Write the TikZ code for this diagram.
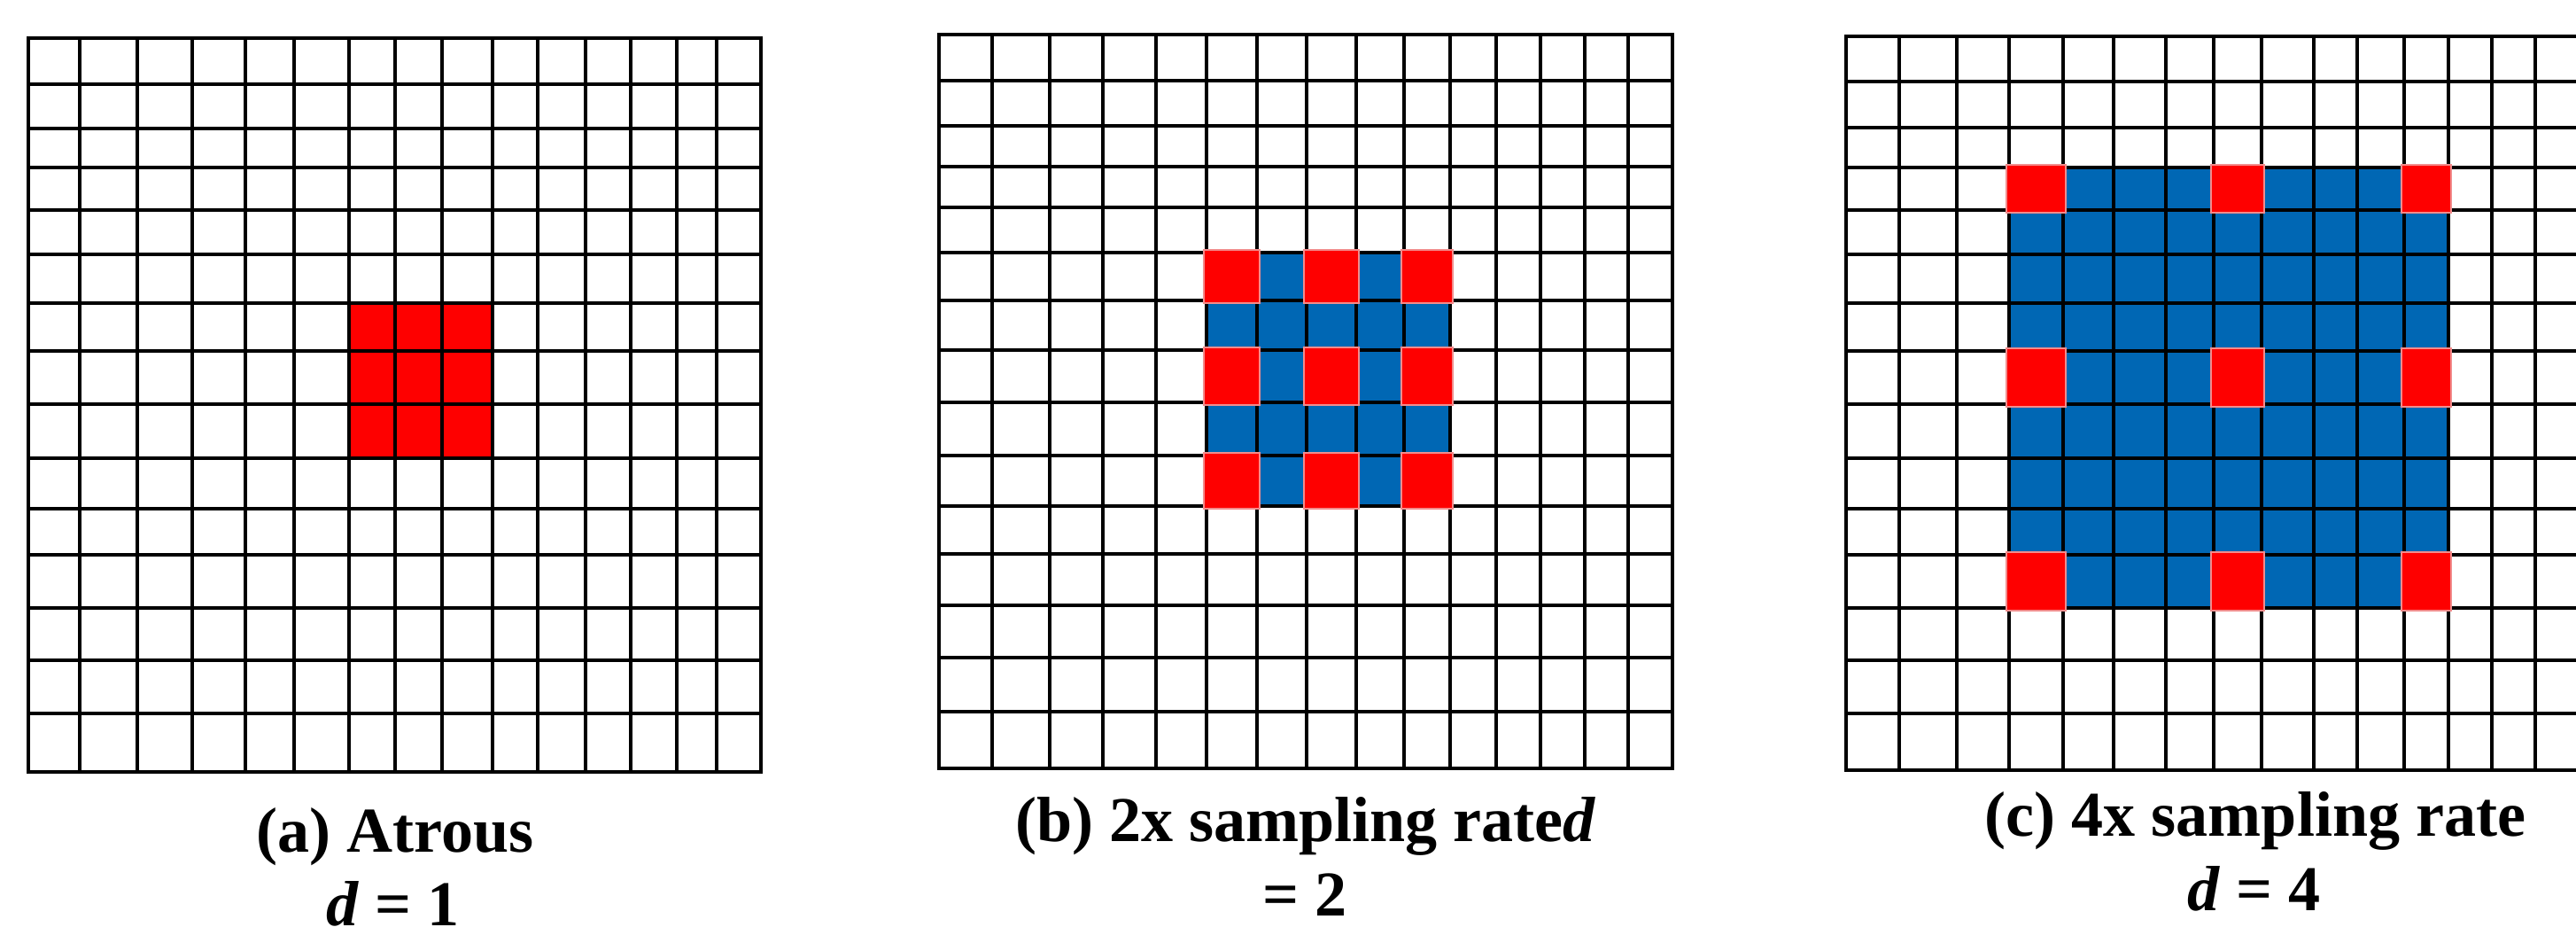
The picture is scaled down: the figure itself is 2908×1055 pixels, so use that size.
\documentclass[tikz,border=0pt]{standalone}
\usepackage{fontspec}
\setmainfont{Liberation Serif}
\definecolor{dilblue}{HTML}{0067B4}
\definecolor{dilred}{HTML}{FE0000}
\definecolor{dilpink}{HTML}{F28C8C}

\begin{document}
\begin{tikzpicture}[
  x=0.01cm, y=-0.01cm,
  font=\fontsize{20.5pt}{24pt}\selectfont\bfseries,
  gridline/.style={line width=1.4pt, black, line cap=rect},
  hole/.style={fill=dilred, draw=dilpink, line width=0.5pt},
  caption/.style={anchor=base, inner sep=0pt},
]
\useasboundingbox (0,0) rectangle (2908,1055);
% line positions of the three grids
\foreach \v [count=\k from 0] in {32,90,155,217,277,332,394,446,499,556,607,661,712,764,809,859}
  \coordinate (ax\k) at (\v,0);
\foreach \v [count=\k from 0] in {43,95,145,189,237,287,342,396,456,517,574,626,686,745,805,871}
  \coordinate (ay\k) at (0,\v);
\foreach \v [count=\k from 0] in {1060,1120,1185,1245,1305,1362,1419,1475,1531,1585,1637,1689,1739,1789,1838,1888}
  \coordinate (bx\k) at (\v,0);
\foreach \v [count=\k from 0] in {39,91,142,188,234,285,339,395,454,514,571,625,683,742,803,867}
  \coordinate (by\k) at (0,\v);
\foreach \v [count=\k from 0] in {2084,2144,2209,2268,2329,2386,2445,2499,2553,2612,2661,2714,2764,2813,2862,2911}
  \coordinate (cx\k) at (\v,0);
\foreach \v [count=\k from 0] in {41,92,144,189,237,287,342,396,456,517,574,626,686,745,805,869}
  \coordinate (cy\k) at (0,\v);

% (a) plain 3x3 kernel
\fill[dilred] (ax6 |- ay6) rectangle (ax9 |- ay9);
\foreach \i in {0,...,15}
  \draw[gridline] (ax\i |- ay0) -- (ax\i |- ay15) (ax0 |- ay\i) -- (ax15 |- ay\i);

% (b) rate 2
\fill[dilblue] (bx5 |- by5) rectangle (bx10 |- by10);
\foreach \i in {0,...,15}
  \draw[gridline] (bx\i |- by0) -- (bx\i |- by15) (bx0 |- by\i) -- (bx15 |- by\i);
\foreach \c/\d in {5/6,7/8,9/10}
  \foreach \r/\s in {5/6,7/8,9/10}
    \draw[hole] ([shift={(-3,-3)}]bx\c |- by\r) rectangle ([shift={(3,3)}]bx\d |- by\s);

% (c) rate 4
\fill[dilblue] (cx3 |- cy3) rectangle (cx12 |- cy12);
\foreach \i in {0,...,15}
  \draw[gridline] (cx\i |- cy0) -- (cx\i |- cy15) (cx0 |- cy\i) -- (cx15 |- cy\i);
\foreach \c/\d in {3/4,7/8,11/12}
  \foreach \r/\s in {3/4,7/8,11/12}
    \draw[hole] ([shift={(-3,-3)}]cx\c |- cy\r) rectangle ([shift={(3,3)}]cx\d |- cy\s);

\node[caption] (capa) at (446,961) {(a) Atrous};
\node[caption] (ratea) at (444,1044) {\textit{d} = 1};
\node[caption] (capb) at (1474,949) {(b) 2x sampling rate\textit{d}};
\node[caption] (rateb) at (1473,1033) {= 2};
\node[caption] (capc) at (2546,943) {(c) 4x sampling rate};
\node[caption] (ratec) at (2545,1027) {\textit{d} = 4};
\end{tikzpicture}
\end{document}
